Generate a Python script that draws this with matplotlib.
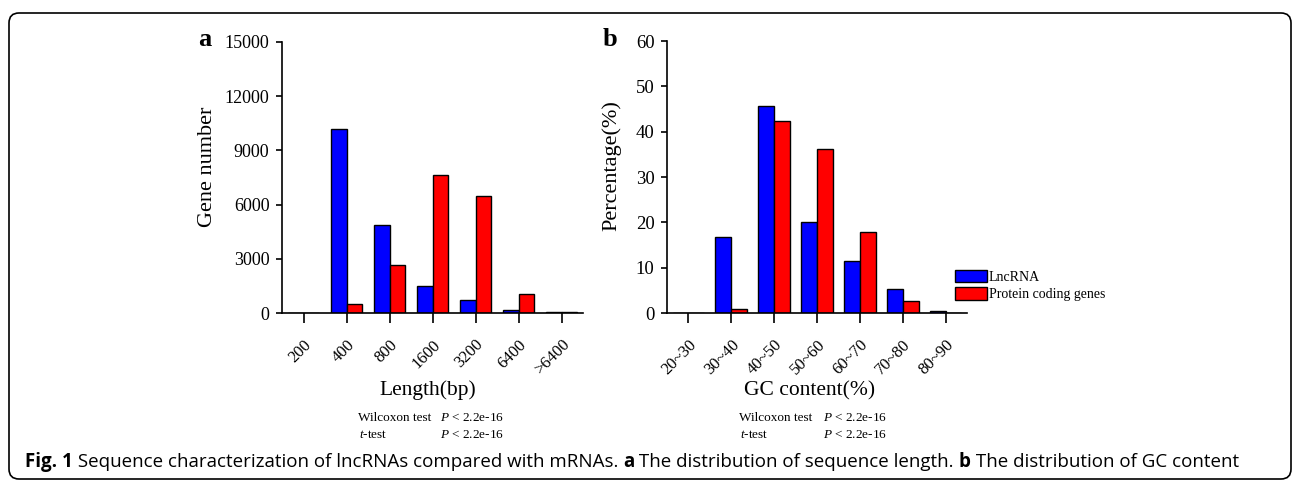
import matplotlib
matplotlib.use("Agg")
import matplotlib.pyplot as plt
import numpy as np
from matplotlib.patches import FancyBboxPatch, Patch
from matplotlib.transforms import IdentityTransform

W, H = 1292, 480

length_bins = ["200", "400", "800", "1600", "3200", "6400", ">6400"]
length_lnc = [0, 10200, 4880, 1470, 740, 150, 70]
length_pcg = [0, 520, 2670, 7640, 6500, 1070, 40]

gc_bins = ["20~30", "30~40", "40~50", "50~60", "60~70", "70~80", "80~90"]
gc_lnc = [0.1, 16.8, 45.6, 20.1, 11.5, 5.4, 0.35]
gc_pcg = [0.0, 0.95, 42.4, 36.1, 17.8, 2.7, 0.0]

series_names = ["LncRNA", "Protein coding genes"]
caption_parts = [
    ("Fig. 1", "bold"),
    (" Sequence characterization of lncRNAs compared with mRNAs. ", "normal"),
    ("a", "bold"),
    (" The distribution of sequence length. ", "normal"),
    ("b", "bold"),
    (" The distribution of GC content", "normal"),
]

plt.rcParams["font.family"] = ["Liberation Serif", "DejaVu Serif"]
plt.rcParams["mathtext.fontset"] = "custom"
plt.rcParams["mathtext.rm"] = "Liberation Serif"
plt.rcParams["mathtext.it"] = "Liberation Serif:italic"

BLUE = "#0000ff"
RED = "#ff0000"


def px(x, y):
    return x / W, 1 - y / H


def draw_panel(ax, cats, lnc, pcg, ymax, yticks, ysize):
    x = np.arange(len(cats))
    bw = 0.37
    ax.bar(x - bw / 2, lnc, bw, color=BLUE, edgecolor="black", linewidth=1)
    ax.bar(x + bw / 2, pcg, bw, color=RED, edgecolor="black", linewidth=1)
    ax.set_xlim(-0.5, len(cats) - 0.5)
    ax.set_ylim(0, ymax)
    ax.set_yticks(yticks)
    ax.set_xticks(x)
    ax.set_xticklabels(cats, rotation=45, ha="right", va="top",
                       rotation_mode="anchor", fontsize=12)
    ax.tick_params(axis="y", labelsize=ysize, length=4, width=1.2, pad=5)
    ax.tick_params(axis="x", length=7, width=1.2, pad=10)
    for s in ["top", "right"]:
        ax.spines[s].set_visible(False)
    for s in ["left", "bottom"]:
        ax.spines[s].set_linewidth(1.2)


fig = plt.figure(figsize=(W / 100, H / 100), dpi=100)

ax_a = fig.add_axes([282 / W, 1 - 313 / H, (583 - 282) / W, (313 - 42) / H])
draw_panel(ax_a, length_bins, length_lnc, length_pcg, 15000,
           [0, 3000, 6000, 9000, 12000, 15000], 13)

ax_b = fig.add_axes([667 / W, 1 - 313 / H, (967 - 667) / W, (313 - 41) / H])
draw_panel(ax_b, gc_bins, gc_lnc, gc_pcg, 60,
           [0, 10, 20, 30, 40, 50, 60], 13.5)

# axis titles
fig.text(*px(207, 167), "Gene number", fontsize=16, rotation=90, ha="center", va="center")
fig.text(*px(612, 166), "Percentage(%)", fontsize=16, rotation=90, ha="center", va="center")
fig.text(*px(428, 390), "Length(bp)", fontsize=15.5, ha="center", va="center")
fig.text(*px(810, 391), "GC content(%)", fontsize=15.5, ha="center", va="center")

fig.text(*px(205, 40), "a", fontsize=19, fontweight="bold", ha="center", va="center")
fig.text(*px(610, 40), "b", fontsize=19, fontweight="bold", ha="center", va="center")

# test statistics under each panel
for x0, x1 in [(358, 504), (739, 887)]:
    fig.text(*px(x0, 418), "Wilcoxon test", fontsize=9.5, va="center")
    fig.text(*px(x1, 418), r"$\it{P}$ < 2.2e-16", fontsize=9.5, va="center", ha="right")
    fig.text(*px(x0 + 1, 435), r"$\it{t}$-test", fontsize=9.5, va="center")
    fig.text(*px(x1, 435), r"$\it{P}$ < 2.2e-16", fontsize=9.5, va="center", ha="right")

handles = [Patch(facecolor=BLUE, edgecolor="black", linewidth=1),
           Patch(facecolor=RED, edgecolor="black", linewidth=1)]
fig.legend(handles, series_names, loc="upper left", bbox_to_anchor=px(955, 270),
           frameon=False, fontsize=10, handlelength=2.3, handleheight=1.0,
           handletextpad=0.15, labelspacing=0.25, borderpad=0, borderaxespad=0)

# rounded frame around the figure (pixel coordinates, origin bottom-left)
frame = FancyBboxPatch((9, H - 479), 1291 - 9, 479 - 13,
                       boxstyle="round,pad=0,rounding_size=10",
                       transform=IdentityTransform(), fill=False,
                       edgecolor="black", linewidth=1.2)
fig.patches.append(frame)

# caption, drawn piece by piece so bold parts sit inline
fig.canvas.draw()
renderer = fig.canvas.get_renderer()
cx = 25
for txt, weight in caption_parts:
    t = fig.text(*px(cx, 462), txt, fontsize=13.5, fontweight=weight,
                 family=["Open Sans", "DejaVu Sans"], va="center", ha="left")
    bb = t.get_window_extent(renderer=renderer)
    cx += bb.width

fig.savefig("out.png", dpi=100)
